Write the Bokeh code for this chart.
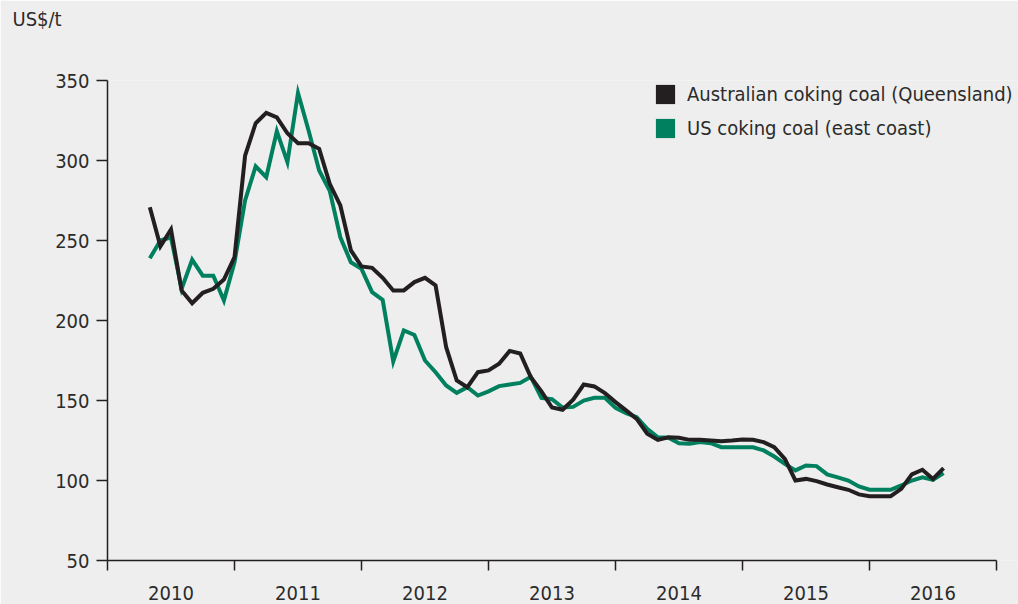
import pandas as pd
from bokeh.plotting import figure
from bokeh.models import FixedTicker, Legend, LegendItem, Range1d
from bokeh.embed import file_html
from bokeh.resources import INLINE

# ---- data (monthly, Apr 2010 - Jul 2016), US$/t ----
months = pd.date_range("2010-04-01", periods=76, freq="MS")
australian = [270.8, 246.4, 256.9, 218.8, 210.8, 217.3, 219.8, 225.6, 239.6, 303.0,
              323.3, 329.8, 327.0, 317.0, 310.8, 310.8, 307.3, 285.4, 271.9, 243.8,
              233.8, 232.9, 226.7, 218.8, 218.8, 224.0, 226.7, 221.9, 183.3, 162.5,
              158.3, 167.7, 168.8, 173.0, 181.0, 179.4, 164.5, 155.7, 145.6, 144.2,
              150.5, 160.0, 158.8, 154.6, 149.0, 143.8, 138.5, 129.2, 125.4, 127.0,
              126.7, 125.4, 125.4, 125.0, 124.6, 125.0, 125.6, 125.4, 124.0, 120.8,
              113.5, 100.0, 101.0, 99.6, 97.5, 95.8, 94.2, 91.3, 90.2, 90.2,
              90.2, 94.8, 103.8, 106.7, 101.0, 107.7]
us_east = [238.9, 250.0, 252.0, 219.8, 238.0, 228.0, 228.0, 212.5, 236.4, 275.0,
           296.4, 289.6, 318.3, 299.0, 342.3, 318.8, 293.8, 281.0, 252.0, 236.4,
           232.3, 217.7, 212.9, 174.4, 193.8, 191.0, 175.0, 167.7, 159.4, 154.8,
           158.3, 153.1, 155.7, 159.0, 160.0, 161.0, 164.8, 151.6, 150.8, 145.6,
           146.0, 150.0, 151.7, 151.7, 145.4, 142.1, 139.6, 132.3, 127.0, 126.7,
           123.3, 122.9, 124.0, 123.3, 120.8, 120.8, 120.8, 120.8, 118.8, 115.0,
           110.4, 106.3, 109.4, 109.0, 103.8, 102.0, 100.0, 96.3, 94.2, 94.2,
           94.2, 96.9, 100.0, 102.0, 100.4, 104.6]
years = [2010, 2011, 2012, 2013, 2014, 2015, 2016]
y_ticks = [50, 100, 150, 200, 250, 300, 350]
series_names = ["Australian coking coal (Queensland)", "US coking coal (east coast)"]
unit_label = "US$/t"

# ---- style ----
BG = "#eeeeee"
BLACK = "#231f20"
GREEN = "#00805f"
TXT = "#2b2b2b"
FONT = "DejaVu Sans Condensed"
FS = "20px"

x = [m.year + m.month / 12 for m in months]   # plotted at month end

x_end = years[-1] + 1
p = figure(width=1018, height=604,
           x_range=Range1d(years[0], x_end + 22 / 127), y_range=Range1d(y_ticks[0], y_ticks[-1]),
           output_backend="svg", toolbar_location=None,
           min_border_left=107, min_border_right=0, min_border_top=80, min_border_bottom=44,
           background_fill_color=BG, border_fill_color=BG, outline_line_color=None)
p.grid.visible = False

# unit label sits at the top-left corner; two empty lines below it lift it up
p.title.text = unit_label + "\n\n"
p.title.align = "left"
p.title.vertical_align = "top"
p.title.standoff = 0
p.title.text_line_height = 1.0
p.title.offset = -95
p.title.text_font = FONT
p.title.text_font_size = FS
p.title.text_font_style = "normal"
p.title.text_color = TXT

xa = p.xaxis[0]
xa.bounds = (years[0], x_end)
xa.ticker = FixedTicker(ticks=[y + 0.5 for y in years], minor_ticks=years + [x_end])
xa.major_label_overrides = {y + 0.5: str(y) for y in years}
xa.major_tick_out = 0
xa.major_tick_in = 0
xa.minor_tick_out = 10
xa.minor_tick_in = 0
xa.minor_tick_line_color = BLACK
xa.minor_tick_line_width = 1.5
xa.axis_line_color = BLACK
xa.axis_line_width = 1.5
xa.major_label_standoff = 15
xa.major_label_text_font = FONT
xa.major_label_text_font_size = FS
xa.major_label_text_color = TXT

ya = p.yaxis[0]
ya.ticker = FixedTicker(ticks=y_ticks)
ya.major_tick_out = 11
ya.major_tick_in = 0
ya.minor_tick_out = 0
ya.minor_tick_in = 0
ya.major_tick_line_color = BLACK
ya.major_tick_line_width = 1.5
ya.axis_line_color = BLACK
ya.axis_line_width = 1.5
ya.major_label_standoff = 7
ya.major_label_text_font = FONT
ya.major_label_text_font_size = FS
ya.major_label_text_color = TXT

p.line(x, us_east, line_color=GREEN, line_width=4, line_join="miter")
p.line(x, australian, line_color=BLACK, line_width=4, line_join="miter")

# zero-area swatches that exist only to give the legend its square keys
r1 = p.quad(left=[years[0]], right=[years[0]], top=[y_ticks[0]], bottom=[y_ticks[0]],
            fill_color=BLACK, line_color=None)
r2 = p.quad(left=[years[0]], right=[years[0]], top=[y_ticks[0]], bottom=[y_ticks[0]],
            fill_color=GREEN, line_color=None)
legend = Legend(items=[LegendItem(label=series_names[0], renderers=[r1]),
                       LegendItem(label=series_names[1], renderers=[r2])],
                location=(546, 420), orientation="vertical",
                background_fill_alpha=0, border_line_color=None,
                padding=0, margin=0, glyph_width=24, glyph_height=24,
                label_height=24, label_standoff=10, spacing=10,
                label_text_font=FONT, label_text_font_size=FS, label_text_color=TXT)
p.add_layout(legend)

open("out.html", "w").write(file_html(p, INLINE))
